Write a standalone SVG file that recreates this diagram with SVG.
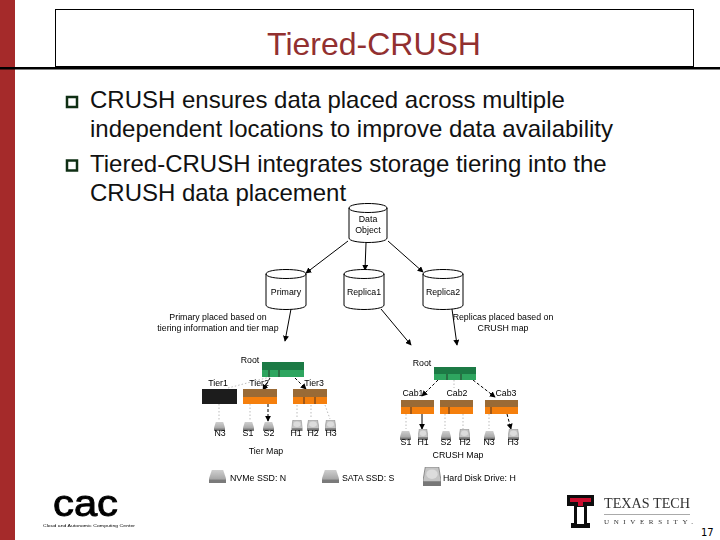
<svg xmlns="http://www.w3.org/2000/svg" width="720" height="540" viewBox="0 0 720 540">
<style>
text{font-family:"Liberation Sans",Arial,sans-serif;fill:#000}
.body{font-size:24px;fill:#111}
.title{font-size:32px;fill:#923030;text-anchor:middle}
.lab{font-size:8.800px;text-anchor:middle;fill:#000}
.cyl{fill:#fff;stroke:#000;stroke-width:1}
.arrow{fill:none;stroke:#000;stroke-width:1;marker-end:url(#ah)}
.dash{fill:none;stroke:#000;stroke-width:1;stroke-dasharray:3 2;marker-end:url(#ah)}
.dot{fill:none;stroke:#bbb;stroke-width:1;stroke-dasharray:1.500 2}
.gd{fill:#1f7a45}.gl{fill:#2fa55e}.br{fill:#9a6b36}.or{fill:#f57f10}.bk{fill:#1a1a1a}
.div{stroke:#222;stroke-width:.8}
</style>
<defs>
<marker id="ah" viewBox="0 0 8 8" refX="7" refY="4" markerWidth="6" markerHeight="6" markerUnits="userSpaceOnUse" orient="auto"><path d="M0 0L8 4L0 8Z" fill="#000"/></marker>
<linearGradient id="dg" x1="0" y1="0" x2="0" y2="1"><stop offset="0" stop-color="#cfcfcf"/><stop offset=".65" stop-color="#aaa"/><stop offset="1" stop-color="#6f6f6f"/></linearGradient>
<symbol id="disk" viewBox="0 0 12 10" preserveAspectRatio="none"><path d="M2 0H10L12 6.500V10H0V6.500Z" fill="url(#dg)"/><path d="M0 7.500H12V10H0Z" fill="#7a7a7a"/></symbol>
<symbol id="hdd" viewBox="0 0 12 12" preserveAspectRatio="none"><path d="M1.500 0H10.500L12 8.500V12H0V8.500Z" fill="#c4c4c4" stroke="#777" stroke-width=".5"/><ellipse cx="6" cy="4.500" rx="3.800" ry="3" fill="#dcdcdc"/><path d="M0 9H12V12H0Z" fill="#777"/></symbol>
<filter id="soft" x="-2%" y="-2%" width="104%" height="104%"><feGaussianBlur stdDeviation="0.3"/></filter>
</defs>
<rect width="720" height="540" fill="#fff"/>
<rect x="0" y="0" width="15" height="540" fill="#a52a2a"/>
<rect x="55.500" y="9.500" width="638" height="57" fill="#fff" stroke="#000" stroke-width="1"/>
<rect x="0" y="67" width="720" height="2.500" fill="#000"/>
<text class="title" x="374" y="55">Tiered-CRUSH</text>
<g id="bullets" fill="none" stroke="#0f2f14" stroke-width="2.500"><rect x="67" y="97" width="10" height="10"/><rect x="67" y="160.500" width="10" height="10"/></g>
<text class="body" x="90" y="108">CRUSH ensures data placed across multiple</text>
<text class="body" x="90" y="137">independent locations to improve data availability</text>
<text class="body" x="90" y="172">Tiered-CRUSH integrates storage tiering into the</text>
<text class="body" x="90" y="201">CRUSH data placement</text>
<g id="figure" filter="url(#soft)">
<g id="connectors">
<path class="arrow" d="M348 241L306 273"/><path class="arrow" d="M366 243L365 270"/><path class="arrow" d="M388 241L423 272"/>
<path class="arrow" d="M291 309L285 341"/><path class="arrow" d="M381 309L411 345"/><path class="arrow" d="M452 309L457 345"/>
<path class="dot" d="M228 388L270 377"/><path class="dash" d="M270 378L263 390"/><path class="dash" d="M295 378L306 389"/>
<path class="dot" d="M219 404V421M250 404V420M297 405V419M311 405V419M325 405L330 419"/><path class="dash" d="M268 404V421"/>
<path class="dash" d="M438 380L422 396"/><path class="dot" d="M454 380V388"/><path class="dash" d="M473 380L495 397"/>
<path class="dot" d="M406 414V429M445 414V429M463 414V429M489 414V429"/><path class="arrow" d="M422 414V429"/><path class="dash" d="M507 414L511 429"/>
</g>
<g id="data-object"><path class="cyl" d="M349 208V238C349 244 387 244 387 238V208C387 202 349 202 349 208C349 214 387 214 387 208"/><text class="lab" x="368" y="222">Data</text><text class="lab" x="368" y="233">Object</text></g>
<g id="primary"><path class="cyl" d="M266 274V305C266 311 306 311 306 305V274C306 268 266 268 266 274C266 280 306 280 306 274"/><text class="lab" x="286" y="295">Primary</text></g>
<g id="replica1"><path class="cyl" d="M344 274V305C344 311 384 311 384 305V274C384 268 344 268 344 274C344 280 384 280 384 274"/><text class="lab" x="364" y="295">Replica1</text></g>
<g id="replica2"><path class="cyl" d="M423 274V305C423 311 463 311 463 305V274C463 268 423 268 423 274C423 280 463 280 463 274"/><text class="lab" x="443" y="295">Replica2</text></g>
<g id="primary-note"><text class="lab" x="218" y="320">Primary placed based on</text><text class="lab" x="218" y="331">tiering information and tier map</text></g>
<g id="replica-note"><text class="lab" x="503" y="320">Replicas placed based on</text><text class="lab" x="503" y="331">CRUSH map</text></g>
<g id="tier-root"><text class="lab" x="250" y="363">Root</text><rect class="gd" x="262" y="362" width="42" height="8"/><rect class="gl" x="262" y="370" width="42" height="7"/><path class="div" d="M269 370V377M279 370V377"/></g>
<g id="tier1"><text class="lab" x="218" y="386">Tier1</text><rect class="bk" x="202" y="389" width="35" height="15"/></g>
<g id="tier2"><text class="lab" x="259" y="386">Tier2</text><rect class="br" x="243" y="389" width="34" height="8"/><rect class="or" x="243" y="397" width="34" height="7"/></g>
<g id="tier3"><text class="lab" x="314" y="386">Tier3</text><rect class="br" x="293" y="389" width="34" height="8"/><rect class="or" x="293" y="397" width="34" height="7"/><path class="div" d="M304 397V404M315 397V404"/></g>
<g id="tier-disks">
<use href="#disk" x="214" y="422" width="11" height="9"/><text class="lab" x="220" y="436">N3</text>
<use href="#disk" x="243" y="422" width="11" height="9"/><text class="lab" x="248" y="436">S1</text>
<use href="#disk" x="263" y="422" width="11" height="9"/><text class="lab" x="269" y="436">S2</text>
<use href="#hdd" x="291.500" y="420" width="11" height="11"/><text class="lab" x="296" y="436">H1</text>
<use href="#hdd" x="307" y="420" width="12" height="11"/><text class="lab" x="313" y="436">H2</text>
<use href="#hdd" x="325" y="420" width="11" height="11"/><text class="lab" x="331" y="436">H3</text>
<text class="lab" x="266" y="454">Tier Map</text></g>
<g id="crush-root"><text class="lab" x="422" y="366">Root</text><rect class="gd" x="434" y="367" width="42" height="7"/><rect class="gl" x="434" y="374" width="42" height="6"/><path class="div" d="M447 374V380M461 374V380"/></g>
<g id="cab1"><text class="lab" x="413" y="396">Cab1</text><rect class="br" x="401" y="400" width="33" height="7"/><rect class="or" x="401" y="407" width="33" height="7"/><path class="div" d="M411 407V414"/></g>
<g id="cab2"><text class="lab" x="457" y="396">Cab2</text><rect class="br" x="440" y="400" width="33" height="7"/><rect class="or" x="440" y="407" width="33" height="7"/><path class="div" d="M449 407V414"/></g>
<g id="cab3"><text class="lab" x="506" y="396">Cab3</text><rect class="br" x="485" y="400" width="33" height="7"/><rect class="or" x="485" y="407" width="33" height="7"/><path class="div" d="M491 407V414"/></g>
<g id="crush-disks">
<use href="#disk" x="400" y="431" width="11" height="9"/><text class="lab" x="406" y="445">S1</text>
<use href="#hdd" x="418" y="429" width="10" height="11"/><text class="lab" x="423" y="445">H1</text>
<use href="#disk" x="441" y="431" width="10" height="9"/><text class="lab" x="446" y="445">S2</text>
<use href="#hdd" x="459" y="429" width="11" height="11"/><text class="lab" x="465" y="445">H2</text>
<use href="#disk" x="484" y="431" width="11" height="9"/><text class="lab" x="489" y="445">N3</text>
<use href="#hdd" x="508" y="429" width="11" height="11"/><text class="lab" x="513" y="445">H3</text>
<text class="lab" x="458" y="458">CRUSH Map</text></g>
<g id="legend">
<use href="#disk" x="209" y="470" width="17" height="13"/><text class="lab" x="230" y="481" style="text-anchor:start">NVMe SSD: N</text>
<use href="#disk" x="322" y="470" width="17" height="13"/><text class="lab" x="342" y="481" style="text-anchor:start">SATA SSD: S</text>
<use href="#hdd" x="423" y="467" width="18" height="19"/><text class="lab" x="443" y="481" style="text-anchor:start">Hard Disk Drive: H</text>
</g>
</g>
<g id="cac-logo" filter="url(#soft)">
<text x="53" y="515.500" font-size="36" stroke="#000" stroke-width=".9" textLength="65" lengthAdjust="spacingAndGlyphs">cac</text>
<text x="43" y="527" font-size="4.400" textLength="92" lengthAdjust="spacingAndGlyphs">Cloud and Autonomic Computing Center</text>
</g>
<g id="ttu-logo" filter="url(#soft)">
<path d="M567 495H594V506H587V523H590V528H571V523H574V506H567Z" fill="#111"/>
<path d="M570 498H591V502H583V506H578V502H570Z" fill="#c8102e"/>
<path d="M577 507H584V524H577Z" fill="#fff"/>
<text x="604" y="508" font-size="15" textLength="86" lengthAdjust="spacingAndGlyphs" style="font-family:'Liberation Serif',serif;fill:#333">TEXAS TECH</text>
<rect x="604" y="514" width="86" height="1" fill="#aaa"/>
<text x="604" y="524" font-size="7" textLength="89" style="font-family:'Liberation Serif',serif;fill:#333">UNIVERSITY.</text>
</g>
<text x="701" y="536" font-size="10" style="font-family:'DejaVu Sans',sans-serif">17</text>
</svg>
